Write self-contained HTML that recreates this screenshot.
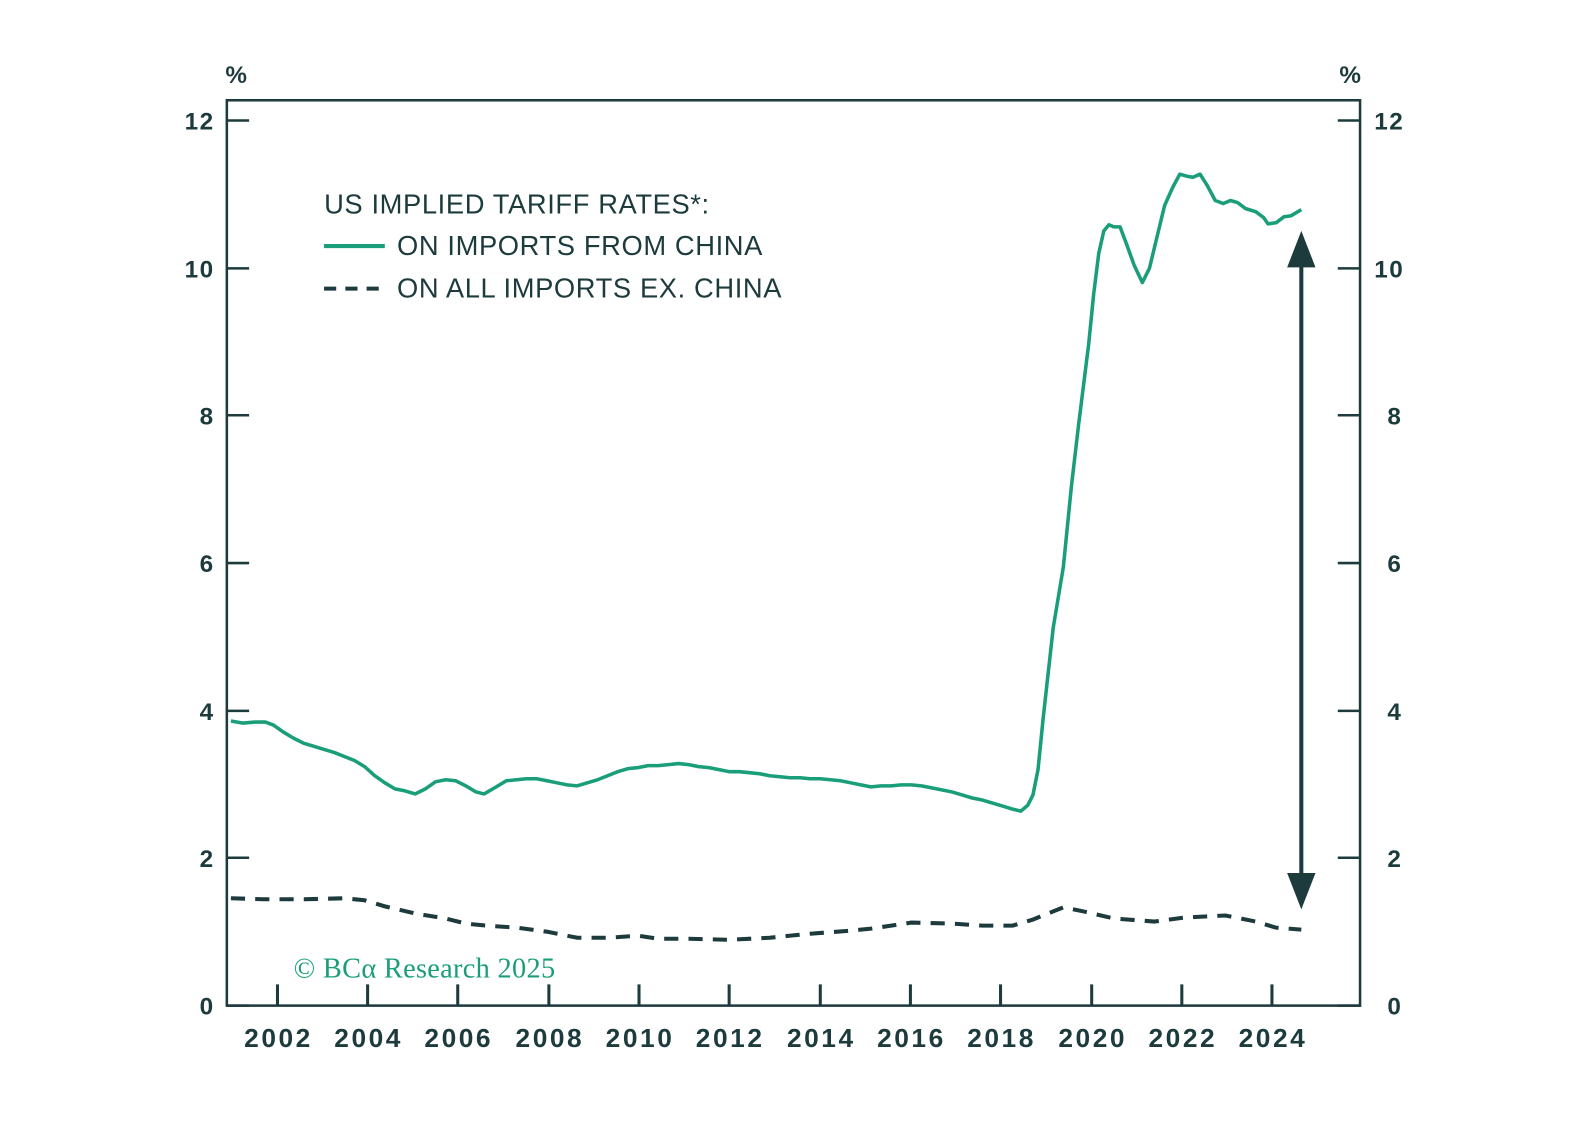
<!DOCTYPE html>
<html><head><meta charset="utf-8"><style>body{margin:0;background:#fff}svg{display:block}</style></head><body>
<svg width="1587" height="1144" viewBox="0 0 1587 1144" xmlns="http://www.w3.org/2000/svg" font-family="Liberation Sans, sans-serif">
<g transform="scale(1.0127)">
<g stroke="#1d3b3d" stroke-width="2.5" fill="none">
<rect x="224" y="99" width="1119" height="894"/>
<path d="M224 119h22M224 265h22M224 410h22M224 556h22M224 702h22M224 847h22M224 993h22M1343 119h-22M1343 265h-22M1343 410h-22M1343 556h-22M1343 702h-22M1343 847h-22M1343 993h-22"/>
<path stroke-width="3" d="M274 993v-21M363 993v-21M452 993v-21M542 993v-21M631 993v-21M720 993v-21M810 993v-21M899 993v-21M988 993v-21M1078 993v-21M1167 993v-21M1256 993v-21"/>
</g>
<g fill="#1d3b3d" font-weight="bold" font-size="24" letter-spacing="1.5">
<text x="234" y="82" text-anchor="middle">%</text><text x="1334" y="82" text-anchor="middle">%</text>
<g text-anchor="end"><text x="212" y="128">12</text><text x="212" y="274">10</text><text x="212" y="419">8</text><text x="212" y="565">6</text><text x="212" y="711">4</text><text x="212" y="856">2</text><text x="212" y="1002">0</text></g>
<g><text x="1357" y="128">12</text><text x="1357" y="274">10</text><text x="1370" y="419">8</text><text x="1370" y="565">6</text><text x="1370" y="711">4</text><text x="1370" y="856">2</text><text x="1370" y="1002">0</text></g>
<g text-anchor="middle" font-size="26" letter-spacing="2.5"><text x="275" y="1034">2002</text><text x="364" y="1034">2004</text><text x="453" y="1034">2006</text><text x="543" y="1034">2008</text><text x="632" y="1034">2010</text><text x="721" y="1034">2012</text><text x="811" y="1034">2014</text><text x="900" y="1034">2016</text><text x="989" y="1034">2018</text><text x="1079" y="1034">2020</text><text x="1168" y="1034">2022</text><text x="1257" y="1034">2024</text></g>
</g>
<g fill="#1d3b3d" font-size="27" letter-spacing="0.6">
<text x="320" y="211">US IMPLIED TARIFF RATES*:</text>
<text x="392" y="252">ON IMPORTS FROM CHINA</text>
<text x="392" y="294">ON ALL IMPORTS EX. CHINA</text>
</g>
<path d="M320 243h60" stroke="#1a9e7a" stroke-width="4"/>
<path d="M320 285h60" stroke="#1d3b3d" stroke-width="4" stroke-dasharray="12 9"/>
<text x="290" y="965" fill="#1a9e7a" font-family="Liberation Serif, serif" font-size="28" letter-spacing="0.3">© BCα Research 2025</text>
<polyline fill="none" stroke="#1a9e7a" stroke-width="3.5" stroke-linejoin="round" points="228,712 240,714 252,713 262,713 270,716 280,723 290,729 300,734 310,737 320,740 330,743 340,747 350,751 360,757 370,766 380,773 390,779 400,781 410,784 420,779 430,772 440,770 450,771 460,776 470,782 478,784 490,777 500,771 510,770 520,769 530,769 540,771 550,773 560,775 570,776 580,773 590,770 600,766 610,762 620,759 630,758 640,756 650,756 660,755 670,754 680,755 690,757 700,758 710,760 720,762 730,762 740,763 750,764 760,766 770,767 780,768 790,768 800,769 810,769 820,770 830,771 840,773 850,775 860,777 870,776 880,776 890,775 900,775 910,776 920,778 930,780 940,782 950,785 960,788 970,790 980,793 990,796 1000,799 1008,801 1015,795 1020,785 1025,760 1030,710 1040,620 1050,560 1058,480 1065,420 1070,380 1075,340 1080,290 1085,250 1090,228 1095,222 1100,224 1106,224 1112,240 1120,262 1128,279 1135,265 1142,236 1150,203 1158,185 1165,172 1172,174 1178,175 1185,172 1192,183 1200,198 1208,201 1215,198 1222,200 1230,206 1240,209 1248,215 1252,221 1260,220 1268,214 1275,213 1285,207"/>
<polyline fill="none" stroke="#1d3b3d" stroke-width="4" stroke-dasharray="14 10" points="228,887 260,888 300,888 340,887 360,889 380,895 410,902 440,907 460,912 480,914 510,916 540,920 570,926 600,926 630,924 650,927 680,927 720,928 760,926 800,922 840,919 860,917 900,911 940,912 970,914 1000,914 1020,908 1050,896 1070,900 1100,907 1140,910 1170,906 1210,904 1240,910 1260,916 1285,918"/>
<path d="M1285 255V872" stroke="#1d3b3d" stroke-width="4"/>
<path d="M1285 228l-14 36h28zM1285 898l-14 -36h28z" fill="#1d3b3d"/>
</g>
</svg>
</body></html>
